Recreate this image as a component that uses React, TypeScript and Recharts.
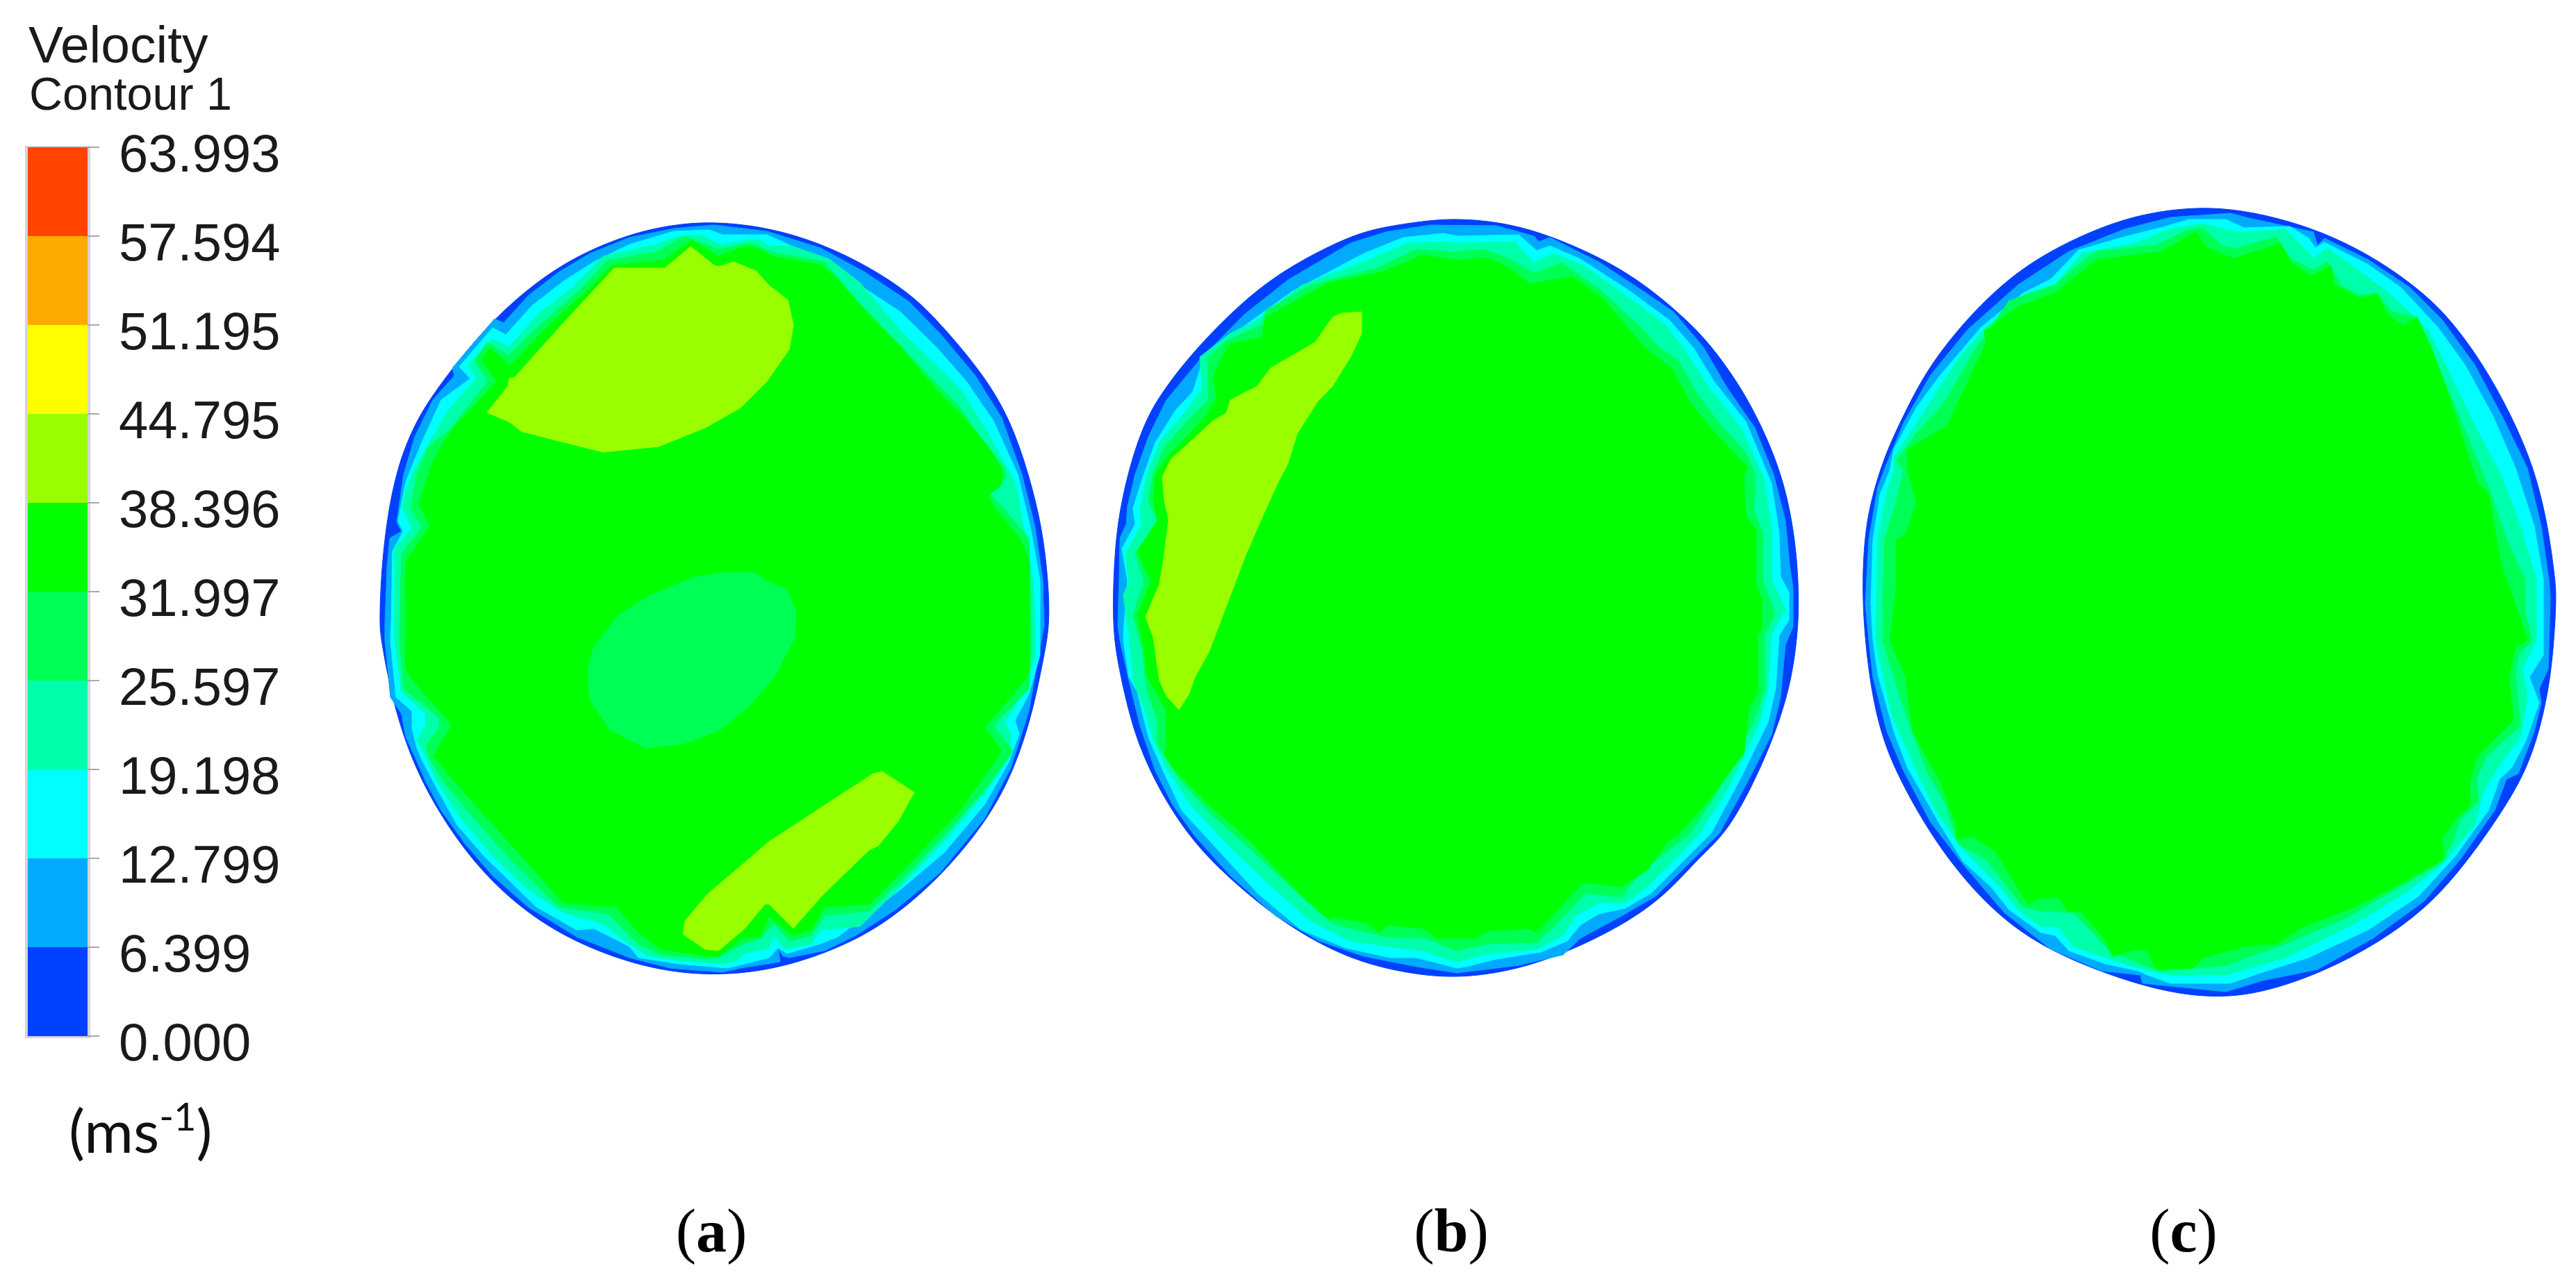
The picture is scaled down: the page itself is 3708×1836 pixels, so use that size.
import React from 'react';
import { Bar, BarChart, Scatter, ScatterChart, XAxis, YAxis } from 'recharts';

type Pair = [number, number];

// Colour bar of the CFD legend, bottom to top
const velocityTicks = [0, 6.399, 12.799, 19.198, 25.597, 31.997, 38.396, 44.795, 51.195, 57.594, 63.993];
const bandColors = ['#0040ff', '#00aaff', '#00ffff', '#00ffaa', '#00ff55', '#00ff00', '#99ff00', '#ffff00', '#ffaa00', '#ff4400'];

const panelCentres = [1024, 2089, 3143];
const panelLetters = ['a', 'b', 'c'];

// Contour outlines, in image pixels
const aOuter: Pair[] = [[546,900],[549,817],[559,732],[575,664],[594,618],[613,583],[651,530],[715,453],[804,380],[900,338],[970,323],[1028,319],[1104,327],[1181,350],[1251,384],[1315,426],[1359,472],[1417,541],[1455,606],[1481,683],[1500,759],[1509,836],[1511,900],[1503,943],[1487,1024],[1461,1106],[1423,1179],[1359,1257],[1295,1314],[1232,1355],[1136,1392],[1040,1406],[945,1398],[849,1367],[766,1322],[689,1253],[626,1163],[587,1082],[562,996],[549,922]];
const aLevel2: Pair[] = [[554,900],[557,817],[561,775],[578,765],[571,752],[581,683],[597,629],[623,576],[654,541],[651,530],[674,503],[712,459],[725,465],[760,426],[804,392],[849,365],[906,342],[970,329],[1028,324],[1104,333],[1181,357],[1245,392],[1308,434],[1353,480],[1404,541],[1442,602],[1471,683],[1490,759],[1501,836],[1503,900],[1495,943],[1481,1024],[1455,1106],[1417,1179],[1353,1257],[1289,1310],[1232,1347],[1187,1369],[1136,1379],[1127,1377],[1120,1365],[1123,1385],[1066,1394],[1040,1400],[964,1394],[906,1379],[830,1349],[760,1306],[709,1261],[670,1216],[635,1167],[613,1126],[599,1094],[584,1061],[578,1028],[562,1004],[554,922]];
const aLevel3: Pair[] = [[563,900],[565,794],[580,765],[573,750],[584,694],[607,637],[635,576],[677,545],[661,528],[709,472],[728,482],[766,440],[811,405],[855,377],[906,352],[970,333],[1021,331],[1040,338],[1104,338],[1181,373],[1238,411],[1296,449],[1347,499],[1391,549],[1430,606],[1465,683],[1484,763],[1497,836],[1497,900],[1497,943],[1481,1000],[1461,1037],[1467,1057],[1452,1098],[1417,1159],[1359,1228],[1296,1281],[1206,1349],[1181,1359],[1133,1373],[1120,1365],[1107,1379],[1072,1388],[1047,1394],[977,1388],[919,1379],[906,1363],[855,1337],[830,1339],[772,1306],[734,1269],[696,1232],[658,1188],[626,1130],[607,1094],[600,1077],[593,1049],[593,1024],[570,1004],[562,922]];
const aLevel4: Pair[] = [[568,900],[568,790],[593,761],[578,729],[591,687],[610,652],[645,591],[686,545],[674,526],[709,488],[733,499],[776,451],[823,415],[868,369],[945,352],[977,340],[1008,338],[1037,352],[1091,344],[1107,354],[1142,355],[1194,373],[1238,407],[1296,476],[1347,526],[1385,564],[1423,625],[1461,694],[1474,763],[1487,836],[1490,900],[1490,943],[1474,996],[1446,1041],[1455,1057],[1455,1086],[1417,1143],[1359,1212],[1296,1277],[1238,1334],[1181,1339],[1168,1359],[1130,1367],[1114,1347],[1107,1365],[1072,1373],[1060,1383],[1040,1388],[977,1383],[932,1377],[906,1359],[868,1330],[811,1314],[760,1281],[709,1232],[664,1179],[632,1130],[613,1090],[600,1065],[613,1045],[613,1028],[578,996],[568,922]];
const aLevel5: Pair[] = [[575,900],[578,797],[607,759],[591,732],[600,683],[616,644],[648,618],[702,549],[683,518],[702,493],[731,512],[785,461],[833,419],[875,375],[945,363],[986,340],[1034,359],[1079,350],[1111,363],[1187,377],[1238,438],[1283,484],[1334,537],[1379,583],[1417,637],[1446,675],[1449,687],[1423,709],[1442,729],[1481,775],[1484,900],[1484,943],[1481,992],[1430,1045],[1458,1082],[1423,1130],[1366,1196],[1308,1257],[1251,1312],[1187,1318],[1168,1347],[1136,1355],[1114,1330],[1095,1351],[1072,1359],[1047,1371],[1021,1381],[951,1375],[919,1359],[875,1316],[804,1306],[734,1237],[683,1179],[642,1130],[619,1094],[613,1073],[632,1049],[632,1033],[581,992],[575,922]];
const aLevel6: Pair[] = [[584,900],[584,809],[619,757],[603,725],[623,664],[651,618],[715,549],[693,518],[705,501],[734,526],[798,461],[849,415],[881,382],[954,375],[996,346],[1034,369],[1072,355],[1091,357],[1111,369],[1181,381],[1206,403],[1251,453],[1296,499],[1347,560],[1385,599],[1423,644],[1442,675],[1442,698],[1423,713],[1430,729],[1468,775],[1482,809],[1481,900],[1481,971],[1455,1004],[1417,1047],[1442,1082],[1379,1171],[1308,1245],[1251,1302],[1187,1306],[1168,1339],[1142,1347],[1107,1320],[1095,1349],[1069,1351],[1034,1379],[951,1367],[919,1343],[887,1306],[811,1300],[721,1200],[658,1130],[624,1088],[648,1049],[648,1041],[594,980],[584,963]];
const aUpperPatch: Pair[] = [[884,386],[957,386],[994,355],[1028,382],[1034,384],[1056,377],[1088,390],[1107,411],[1134,432],[1142,468],[1136,503],[1104,549],[1066,587],[1015,616],[948,643],[868,651],[804,635],[750,621],[734,608],[701,594],[731,556],[733,545],[741,543],[811,465]];
const aSlowPatch: Pair[] = [[1085,824],[1104,837],[1133,849],[1146,882],[1144,918],[1117,971],[1079,1016],[1034,1053],[983,1071],[929,1077],[878,1051],[849,1008],[846,963],[855,931],[890,886],[932,859],[999,831],[1040,825]];
const aLowerPatch: Pair[] = [[1270,1111],[1316,1141],[1292,1184],[1264,1218],[1251,1224],[1181,1292],[1142,1337],[1107,1302],[1101,1302],[1072,1337],[1034,1369],[1015,1367],[983,1345],[986,1326],[1018,1288],[1107,1212],[1200,1151],[1257,1114]];

const bOuter: Pair[] = [[1601,900],[1604,797],[1612,732],[1628,664],[1650,602],[1676,560],[1717,507],[1784,438],[1848,388],[1937,342],[1988,327],[2059,317],[2097,315],[2154,319],[2218,334],[2301,369],[2365,407],[2429,461],[2465,500],[2500,549],[2526,594],[2553,652],[2573,714],[2586,790],[2590,871],[2586,929],[2576,991],[2556,1054],[2526,1125],[2485,1200],[2448,1232],[2397,1290],[2333,1334],[2256,1371],[2186,1396],[2097,1410],[2014,1400],[1937,1379],[1854,1334],[1778,1273],[1720,1216],[1676,1151],[1644,1086],[1625,1028],[1609,955]];
const bLevel2: Pair[] = [[1609,900],[1611,836],[1612,775],[1621,755],[1623,729],[1634,683],[1653,629],[1679,576],[1727,518],[1791,453],[1854,403],[1944,350],[1995,334],[2059,324],[2154,325],[2208,340],[2215,348],[2231,342],[2301,377],[2365,419],[2409,449],[2452,500],[2486,558],[2526,616],[2553,683],[2570,750],[2576,812],[2581,848],[2581,902],[2570,929],[2563,1004],[2550,1058],[2516,1125],[2475,1200],[2384,1290],[2336,1318],[2314,1330],[2275,1351],[2250,1375],[2186,1390],[2122,1398],[2097,1401],[2039,1392],[1963,1377],[1899,1355],[1835,1318],[1771,1261],[1720,1204],[1688,1159],[1663,1110],[1641,1045],[1625,980],[1612,922]];
const bLevel3: Pair[] = [[1618,900],[1623,836],[1615,790],[1634,755],[1631,732],[1644,690],[1663,637],[1692,591],[1717,564],[1733,514],[1797,465],[1861,419],[1963,365],[2020,342],[2078,336],[2097,340],[2186,338],[2212,361],[2231,354],[2275,373],[2346,419],[2403,461],[2437,500],[2467,549],[2513,607],[2550,696],[2561,768],[2563,830],[2575,853],[2575,893],[2561,915],[2556,991],[2545,1040],[2506,1120],[2463,1200],[2377,1286],[2339,1308],[2301,1316],[2275,1332],[2256,1355],[2218,1371],[2154,1381],[2110,1392],[2097,1394],[2039,1379],[2001,1379],[1937,1365],[1873,1339],[1810,1286],[1746,1216],[1701,1167],[1676,1114],[1653,1061],[1637,996],[1625,975],[1617,922]];
const bLevel4: Pair[] = [[1620,797],[1644,755],[1641,736],[1650,687],[1669,637],[1708,591],[1730,560],[1727,514],[1771,480],[1810,461],[1873,411],[1963,377],[2027,350],[2078,348],[2097,350],[2180,348],[2208,378],[2237,365],[2282,384],[2346,430],[2397,468],[2422,500],[2460,558],[2506,616],[2538,687],[2550,759],[2550,835],[2570,877],[2550,913],[2545,991],[2533,1040],[2493,1125],[2447,1200],[2371,1277],[2339,1300],[2301,1300],[2269,1318],[2250,1347],[2212,1367],[2141,1373],[2097,1385],[2046,1369],[2001,1363],[1944,1355],[1886,1326],[1822,1269],[1759,1208],[1714,1159],[1679,1106],[1660,1065],[1650,1028],[1631,980],[1625,914],[1617,857],[1625,837]];
const bLevel5: Pair[] = [[1634,797],[1666,750],[1653,721],[1660,683],[1676,644],[1720,595],[1739,576],[1739,514],[1765,491],[1816,468],[1822,447],[1886,411],[1982,386],[2039,359],[2090,363],[2135,359],[2173,373],[2208,394],[2247,378],[2301,415],[2358,468],[2388,500],[2415,518],[2443,567],[2473,607],[2513,652],[2526,683],[2525,737],[2538,768],[2538,839],[2555,884],[2540,915],[2540,991],[2526,1036],[2476,1134],[2433,1200],[2365,1253],[2333,1292],[2282,1286],[2237,1334],[2212,1357],[2141,1359],[2097,1369],[2052,1351],[1995,1349],[1918,1330],[1854,1273],[1797,1220],[1746,1175],[1698,1122],[1666,1073],[1666,1037],[1650,992],[1644,935],[1631,886],[1647,837]];
const bLevel6: Pair[] = [[1637,794],[1666,750],[1660,721],[1663,683],[1682,656],[1736,599],[1752,572],[1746,545],[1759,514],[1771,495],[1816,486],[1822,457],[1912,407],[1988,392],[2049,367],[2097,375],[2141,371],[2173,386],[2202,409],[2263,398],[2307,430],[2367,500],[2407,531],[2433,580],[2470,625],[2515,672],[2510,687],[2513,743],[2528,763],[2528,844],[2536,862],[2536,906],[2530,915],[2530,998],[2518,1018],[2510,1085],[2460,1152],[2417,1200],[2400,1212],[2371,1253],[2333,1277],[2279,1271],[2212,1343],[2199,1337],[2141,1341],[2125,1351],[2068,1351],[2049,1337],[1998,1332],[1985,1343],[1969,1330],[1921,1320],[1912,1324],[1873,1290],[1797,1208],[1740,1159],[1692,1110],[1676,1086],[1679,1077],[1679,1024],[1650,971],[1647,935],[1637,886],[1657,837]];
const bPatch: Pair[] = [[1960,449],[1960,480],[1944,514],[1918,556],[1896,579],[1867,625],[1854,667],[1838,698],[1819,740],[1794,797],[1775,847],[1765,873],[1755,900],[1740,939],[1720,975],[1711,1000],[1697,1022],[1679,1002],[1669,980],[1660,918],[1649,888],[1669,841],[1676,797],[1682,748],[1676,721],[1673,687],[1685,662],[1746,606],[1765,595],[1771,576],[1810,556],[1829,530],[1893,493],[1918,457],[1931,451]];

const cOuter: Pair[] = [[2683,777],[2693,720],[2713,655],[2740,598],[2773,533],[2826,464],[2892,399],[2958,357],[3031,324],[3091,307],[3151,299],[3210,300],[3277,313],[3343,334],[3409,366],[3469,406],[3522,452],[3575,525],[3615,598],[3648,674],[3668,758],[3678,835],[3680,861],[3674,963],[3658,1045],[3635,1114],[3595,1179],[3548,1245],[3495,1306],[3422,1359],[3343,1400],[3257,1430],[3184,1438],[3091,1424],[2958,1375],[2879,1322],[2819,1257],[2773,1192],[2730,1114],[2706,1053],[2690,975],[2680,869]];
const cLevel2: Pair[] = [[2690,777],[2703,701],[2716,667],[2740,609],[2779,540],[2832,475],[2905,410],[2978,362],[3058,330],[3124,313],[3210,307],[3237,314],[3330,334],[3336,353],[3346,343],[3409,374],[3469,414],[3515,460],[3562,525],[3601,598],[3638,674],[3658,758],[3669,835],[3671,861],[3668,963],[3655,992],[3658,1012],[3648,1053],[3625,1114],[3608,1122],[3591,1167],[3542,1237],[3489,1298],[3416,1351],[3336,1396],[3257,1412],[3204,1428],[3084,1416],[3081,1404],[3025,1398],[2952,1367],[2885,1314],[2826,1245],[2779,1184],[2740,1110],[2716,1053],[2696,975],[2690,922],[2685,869]];
const cLevel3: Pair[] = [[2696,777],[2706,712],[2720,678],[2726,647],[2759,586],[2793,540],[2852,471],[2912,422],[2952,402],[2992,360],[3058,341],[3117,326],[3151,316],[3204,316],[3230,328],[3296,326],[3323,343],[3333,357],[3346,349],[3409,381],[3456,414],[3509,471],[3548,525],[3588,598],[3621,674],[3648,758],[3661,835],[3661,861],[3661,943],[3641,975],[3655,1012],[3635,1069],[3615,1106],[3598,1122],[3582,1167],[3535,1232],[3482,1290],[3409,1339],[3323,1379],[3257,1400],[3210,1416],[3124,1416],[3091,1404],[3078,1398],[3031,1388],[2978,1369],[2958,1347],[2938,1343],[2892,1310],[2866,1277],[2826,1241],[2793,1188],[2746,1106],[2726,1053],[2703,971],[2696,922],[2693,869]];
const cLevel4: Pair[] = [[2703,777],[2716,709],[2726,678],[2726,659],[2766,598],[2819,517],[2859,471],[2919,422],[2958,410],[2998,364],[3071,351],[3124,330],[3171,322],[3224,335],[3290,330],[3316,357],[3330,372],[3350,357],[3403,395],[3442,425],[3495,475],[3529,544],[3568,624],[3601,686],[3628,758],[3651,835],[3651,861],[3651,922],[3631,963],[3638,1004],[3628,1061],[3595,1106],[3575,1139],[3562,1188],[3515,1245],[3462,1286],[3389,1330],[3290,1379],[3204,1404],[3124,1404],[3088,1396],[3071,1392],[3025,1377],[2985,1363],[2962,1334],[2938,1334],[2905,1310],[2879,1277],[2826,1224],[2786,1167],[2746,1082],[2723,1028],[2710,971],[2700,922],[2701,869]];
const cLevel5: Pair[] = [[2713,777],[2730,720],[2740,678],[2730,663],[2759,624],[2799,579],[2839,510],[2892,433],[2958,410],[2998,376],[3018,362],[3104,353],[3151,330],[3171,328],[3197,353],[3217,358],[3277,341],[3296,372],[3330,389],[3350,376],[3369,410],[3396,425],[3422,422],[3442,448],[3475,456],[3509,525],[3542,605],[3582,701],[3608,777],[3635,835],[3635,882],[3645,922],[3625,943],[3621,971],[3628,1045],[3578,1090],[3565,1122],[3568,1155],[3542,1179],[3529,1216],[3509,1245],[3462,1273],[3376,1322],[3290,1359],[3204,1390],[3111,1398],[3091,1392],[3071,1383],[3038,1371],[3018,1349],[2985,1314],[2938,1312],[2912,1306],[2859,1237],[2819,1216],[2799,1155],[2773,1110],[2743,1028],[2720,955],[2710,922],[2710,869]];
const cLevel6: Pair[] = [[2730,777],[2743,770],[2759,724],[2746,678],[2746,647],[2803,613],[2839,536],[2859,494],[2856,477],[2905,441],[2958,422],[3018,374],[3111,362],[3161,334],[3177,357],[3214,372],[3283,351],[3300,380],[3326,397],[3356,383],[3359,410],[3396,429],[3422,424],[3436,452],[3459,469],[3479,456],[3502,506],[3529,582],[3565,693],[3582,712],[3601,816],[3615,854],[3638,922],[3621,931],[3611,975],[3618,1037],[3565,1090],[3555,1126],[3556,1159],[3535,1179],[3515,1208],[3519,1237],[3462,1269],[3389,1306],[3316,1334],[3277,1359],[3230,1363],[3171,1379],[3157,1394],[3104,1396],[3091,1369],[3074,1367],[3041,1377],[3028,1351],[2995,1312],[2978,1314],[2962,1292],[2935,1294],[2919,1302],[2872,1226],[2839,1204],[2816,1208],[2816,1188],[2793,1126],[2753,1053],[2743,975],[2720,922],[2730,841]];

const BLUE = bandColors[0];
const SKY = bandColors[1];
const CYAN = bandColors[2];
const MINT = bandColors[3];
const SPRING = bandColors[4];
const GREEN = bandColors[5];
const LIME = bandColors[6];

const contourLayers: { name: string; outline: Pair[]; color: string; curve?: string }[] = [
  { name: 'a0', outline: aOuter, color: BLUE, curve: 'basisClosed' },
  { name: 'a1', outline: aLevel2, color: SKY },
  { name: 'a2', outline: aLevel3, color: CYAN },
  { name: 'a3', outline: aLevel4, color: MINT },
  { name: 'a4', outline: aLevel5, color: SPRING },
  { name: 'a5', outline: aLevel6, color: GREEN },
  { name: 'a6', outline: aUpperPatch, color: LIME },
  { name: 'a7', outline: aSlowPatch, color: SPRING },
  { name: 'a8', outline: aLowerPatch, color: LIME },
  { name: 'b0', outline: bOuter, color: BLUE, curve: 'basisClosed' },
  { name: 'b1', outline: bLevel2, color: SKY },
  { name: 'b2', outline: bLevel3, color: CYAN },
  { name: 'b3', outline: bLevel4, color: MINT },
  { name: 'b4', outline: bLevel5, color: SPRING },
  { name: 'b5', outline: bLevel6, color: GREEN },
  { name: 'b6', outline: bPatch, color: LIME },
  { name: 'c0', outline: cOuter, color: BLUE, curve: 'basisClosed' },
  { name: 'c1', outline: cLevel2, color: SKY },
  { name: 'c2', outline: cLevel3, color: CYAN },
  { name: 'c3', outline: cLevel4, color: MINT },
  { name: 'c4', outline: cLevel5, color: SPRING },
  { name: 'c5', outline: cLevel6, color: GREEN },
];

const legendRow: Record<string, number | string> = { name: 'Velocity' };
bandColors.forEach((_, i) => {
  legendRow[`band${i}`] = velocityTicks[i + 1] - velocityTicks[i];
});

const NoMarker = () => null;

const PanelTick = ({ x, y, index }: any) => (
  <text x={x} y={y + 94} textAnchor="middle" fontFamily="Liberation Serif" fontSize={88} fill="#000">
    (<tspan fontWeight="bold">{panelLetters[index]}</tspan>)
  </text>
);

const LegendTick = ({ x, y, payload }: any) => (
  <text x={x} y={y + 35} fontFamily="Liberation Sans" fontSize={76} fill="#1a1a1a">
    {payload.value.toFixed(3)}
  </text>
);

export default function App() {
  return (
    <div style={{ position: 'relative', width: 3708, height: 1836, margin: -8, background: '#fff', overflow: 'hidden' }}>
      {/* pale frame around the colour bar */}
      <div style={{ position: 'absolute', left: 36, top: 210, width: 94, height: 1285, background: '#d6d3dc' }} />

      <div style={{ position: 'absolute', left: 0, top: 0 }}>
        <BarChart width={440} height={1560} data={[legendRow]} barCategoryGap={0} margin={{ top: 212, left: 40, right: 0, bottom: 68 }}>
          <XAxis dataKey="name" hide />
          <YAxis
            orientation="right"
            type="number"
            domain={[0, 63.993]}
            ticks={velocityTicks}
            interval={0}
            width={314}
            axisLine={false}
            tickSize={17}
            tickMargin={28}
            tickLine={{ stroke: '#a8a8a8', strokeWidth: 2 }}
            tick={LegendTick}
          />
          {bandColors.map((color, i) => (
            <Bar key={color} dataKey={`band${i}`} stackId="velocity" fill={color} isAnimationActive={false} />
          ))}
        </BarChart>
      </div>

      <div style={{ position: 'absolute', left: 0, top: 0 }}>
        <ScatterChart width={3708} height={1836} margin={{ top: 0, right: 0, bottom: 0, left: 0 }} style={{ background: 'transparent' }}>
          <XAxis
            type="number"
            dataKey="x"
            domain={[0, 3708]}
            ticks={panelCentres}
            interval={0}
            height={136}
            axisLine={false}
            tickLine={false}
            tick={PanelTick}
          />
          <YAxis type="number" dataKey="y" domain={[0, 1700]} reversed hide />
          {contourLayers.map(layer => (
            <Scatter
              key={layer.name}
              name={layer.name}
              data={layer.outline.map(([x, y]) => ({ x, y }))}
              line={{ fill: layer.color, stroke: layer.color, strokeWidth: 1 }}
              lineJointType={(layer.curve ?? 'linearClosed') as any}
              shape={NoMarker}
              isAnimationActive={false}
            />
          ))}
        </ScatterChart>
      </div>

      <svg width={460} height={1836} style={{ position: 'absolute', left: 0, top: 0, pointerEvents: 'none' }}>
        <text x={41} y={90} fontFamily="Liberation Sans" fontSize={75} fill="#1a1a1a">Velocity</text>
        <text x={42} y={158} fontFamily="Liberation Sans" fontSize={66.5} fill="#1a1a1a">Contour 1</text>
        <text x={99} y={1660} fontFamily="Lato" fontSize={86} fill="#111">
          (ms<tspan dy={-32} fontSize={56}>-1</tspan><tspan dy={32}>)</tspan>
        </text>
      </svg>
    </div>
  );
}
